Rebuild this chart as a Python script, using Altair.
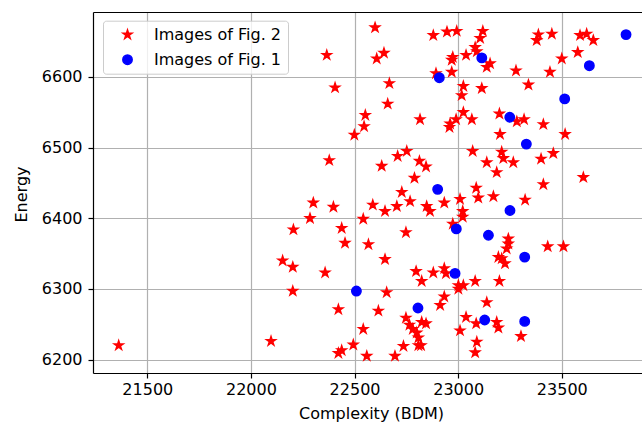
import altair as alt
import pandas as pd

# Red stars: "Images of Fig. 2"
fig2_x = [22366, 22406, 22552, 22546, 22499, 22378, 22599, 22880, 22946, 22642, 22607, 22893, 22668, 22660, 22816, 22752, 22708, 22631, 22813, 22845, 22789, 22728,
          22993, 23119, 23106, 23082, 23090, 22974, 22969, 23038, 23154, 23138, 22969, 23279, 23387, 23379, 23452, 23588, 23620, 23652, 23577, 23500, 23443, 23025, 23017, 23114, 23339, 23025, 23066, 22990, 22961, 22958, 23199, 23283, 23318, 23411, 23202, 23516, 23070, 23210, 23218, 23138, 23266, 23186, 23400, 23459, 23604, 23411, 23087,
          22768, 22933, 22848, 22864, 22301, 22398, 22588, 22647, 22704, 22285, 22542, 22205, 22438, 22748, 22454, 22567, 22647, 22202, 22358, 22797, 22824, 22880, 22933, 22941, 22202, 22655, 22933, 22913, 22422, 22615, 22748, 22824, 22845, 22765, 22781, 22800, 22542, 22808, 22808, 22821, 22736, 22494, 22438, 22422, 22559, 22695,
          22153, 22097, 21362,
          23009, 23097, 23170, 23323, 23022, 23022, 22974, 23242, 23242, 23234, 23194, 23210, 23226, 23432, 23508, 23001, 23001, 23025, 23082, 23199, 23138, 23038, 23087, 23009, 23186, 23194, 23303, 23090, 23082]
fig2_y = [6631, 6585, 6546, 6530, 6518, 6482, 6670, 6659, 6664, 6634, 6626, 6605, 6591, 6562, 6540, 6495, 6488, 6474, 6481, 6473, 6457, 6437,
          6665, 6665, 6655, 6642, 6636, 6628, 6624, 6631, 6619, 6614, 6607, 6609, 6660, 6652, 6661, 6659, 6661, 6652, 6635, 6626, 6607, 6587, 6574, 6584, 6589, 6550, 6540, 6540, 6534, 6529, 6548, 6537, 6540, 6533, 6519, 6519, 6495, 6494, 6485, 6479, 6479, 6465, 6484, 6492, 6458, 6448, 6443,
          6424, 6422, 6417, 6410, 6422, 6416, 6419, 6410, 6417, 6400, 6399, 6384, 6386, 6380, 6365, 6363, 6342, 6331, 6323, 6325, 6311, 6323, 6329, 6322, 6297, 6295, 6289, 6277, 6271, 6269, 6259, 6253, 6251, 6249, 6243, 6238, 6243, 6231, 6220, 6220, 6219, 6221, 6213, 6209, 6205, 6205,
          6340, 6226, 6220,
          6427, 6429, 6431, 6426, 6410, 6402, 6392, 6371, 6364, 6357, 6345, 6343, 6336, 6360, 6360, 6305, 6300, 6305, 6311, 6311, 6281, 6260, 6251, 6241, 6253, 6245, 6233, 6225, 6210]

# Blue circles: "Images of Fig. 1"
fig1_x = [23810, 23114, 22909, 23633, 23514, 23249, 23329, 22901, 23250, 22991, 23146, 23321, 22985, 22806, 23128, 23321, 22509]
fig1_y = [6660, 6627, 6599, 6616, 6569, 6543, 6505, 6441, 6411, 6385, 6376, 6345, 6322, 6273, 6256, 6254, 6297]

series_names = ["Images of Fig. 2", "Images of Fig. 1"]
series_colors = ["#ff0000", "#0000ff"]
x_ticks = [21500, 22000, 22500, 23000, 23500]
y_ticks = [6200, 6300, 6400, 6500, 6600]

df2 = pd.DataFrame({"complexity": fig2_x, "energy": fig2_y, "series": series_names[0]})
df1 = pd.DataFrame({"complexity": fig1_x, "energy": fig1_y, "series": series_names[1]})

STAR = ("M0,-1L0.2245,-0.309L0.9511,-0.309L0.3633,0.118L0.5878,0.809L0,0.382"
        "L-0.5878,0.809L-0.3633,0.118L-0.9511,-0.309L-0.2245,-0.309Z")

FONT = "DejaVu Sans"
W, H = 549, 361

xscale = alt.Scale(domain=[21238, 23887], nice=False, zero=False)
yscale = alt.Scale(domain=[6181, 6692], nice=False, zero=False)

color = alt.Color("series:N", scale=alt.Scale(domain=series_names, range=series_colors),
                  legend=alt.Legend(title=None))
stroke = alt.Stroke("series:N", scale=alt.Scale(domain=series_names, range=series_colors),
                    legend=alt.Legend(title=None))
shape = alt.Shape("series:N", scale=alt.Scale(domain=series_names, range=[STAR, "circle"]),
                  legend=alt.Legend(title=None))

stars = alt.Chart(df2).mark_point(filled=True, size=88, opacity=1, strokeWidth=1.5).encode(
    x=alt.X("complexity:Q", scale=xscale,
            axis=alt.Axis(values=x_ticks, format="d", title="Complexity (BDM)", labelPadding=3,
                          titleX=278, titleY=45, titleBaseline="alphabetic")),
    y=alt.Y("energy:Q", scale=yscale,
            axis=alt.Axis(values=y_ticks, format="d", title="Energy", labelPadding=6,
                          titleX=-66.5, titleY=182, titleBaseline="alphabetic")),
    color=color,
    stroke=stroke,
    shape=shape,
)

circles = alt.Chart(df1).mark_point(filled=True, size=88, opacity=1, strokeWidth=1.5).encode(
    x=alt.X("complexity:Q", scale=xscale,
            axis=alt.Axis(orient="top", labels=False, ticks=False, grid=False, domain=True, title=None)),
    y=alt.Y("energy:Q", scale=yscale),
    color=color,
    stroke=stroke,
    shape=shape,
)

chart = alt.layer(stars, circles).resolve_axis(x="independent").properties(
    width=W, height=H,
    autosize=alt.AutoSizeParams(type="none"),
    padding={"left": 93, "top": 12, "right": 0, "bottom": 53},
    background="white",
).configure_view(strokeWidth=0).configure_axis(
    labelFont=FONT, labelFontSize=16, labelColor="black",
    titleFont=FONT, titleFontSize=16, titleColor="black", titleFontWeight="normal",
    domainColor="black", domainWidth=1.2,
    tickColor="black", tickWidth=1.2, tickSize=5,
    gridColor="#b0b0b0", gridWidth=1.2,
).configure_legend(
    orient="none", legendX=10, legendY=8.7,
    padding=6, rowPadding=9,
    symbolSize=88, symbolStrokeWidth=1.5, symbolOffset=10.5, symbolOpacity=1,
    labelOffset=18.5, labelFont=FONT, labelFontSize=16, labelColor="black", labelLimit=400,
    strokeColor="#cccccc", fillColor="rgba(255,255,255,0.8)", cornerRadius=3,
)

chart.save("out.html", embed_options={"renderer": "svg", "actions": False})
